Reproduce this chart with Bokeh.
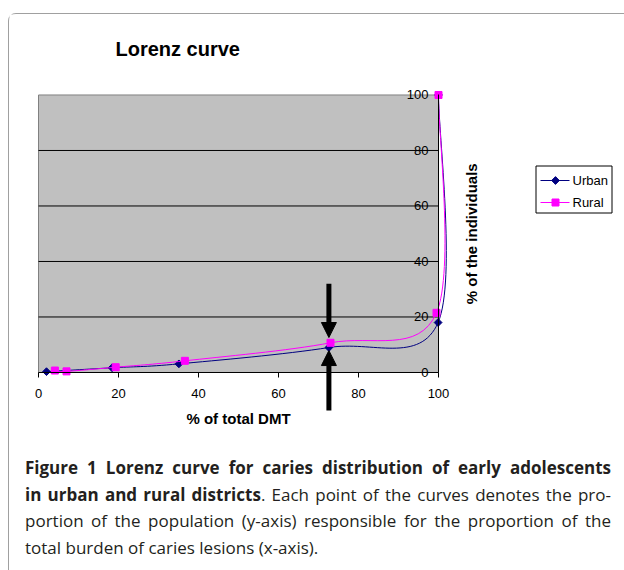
import numpy as np
from bokeh.plotting import figure
from bokeh.core.properties import value
from bokeh.models import (ColumnDataSource, FixedTicker, LinearAxis,
                          Label, Arrow, NormalHead, Div, Range1d)
from bokeh.layouts import column
from bokeh.embed import file_html
from bokeh.resources import INLINE

# ---- data ----
urban_x = [2.0, 18.4, 35.1, 72.6, 99.9, 100.0]
urban_y = [0.3, 1.7, 3.1, 9.0, 18.0, 100.0]
rural_x = [4.1, 7.0, 19.3, 36.6, 73.0, 99.5, 100.0]
rural_y = [0.7, 0.4, 1.9, 4.2, 10.7, 21.5, 100.0]
x_ticks = [0, 20, 40, 60, 80, 100]
y_ticks = [0, 20, 40, 60, 80, 100]
series_names = ["Urban", "Rural"]

# annotation arrows pointing at the highlighted point (data units)
ARROW_X = urban_x[3]
ARROW_DOWN = (32.0, 12.6)
ARROW_UP = (-13.7, 7.9)

NAVY = "#000080"
MAGENTA = "#FF00FF"
FONT = "Liberation Sans"

# canvas geometry: 4 px per x unit, 2.775 px per y unit
W, H = 607, 426
PX_X, PX_Y = 4.0, 2.775
X0, Y1 = -7.25, 129.0
Y0 = Y1 - H / PX_Y


def dx(sx):
    """screen px from canvas left -> data x"""
    return X0 + sx / PX_X


def dy(sy):
    """screen px from canvas bottom -> data y"""
    return Y0 + sy / PX_Y


# legend layout (screen px from canvas bottom-left)
LEG_BOX = (526.5, 602.5, 227.5, 274.5)
LEG_ROWS = [260, 238]
LEG_LINE = (531, 560)
LEG_MARK = 546
LEG_TEXT = 563


def smooth_segments(xs, ys):
    """Excel-style smoothed line: cubic Bezier segments through the points."""
    pts = np.column_stack([xs, ys]).astype(float)
    n = len(pts)
    seg = dict(x0=[], y0=[], x1=[], y1=[], cx0=[], cy0=[], cx1=[], cy1=[])
    for i in range(n - 1):
        pp = pts[i - 1] if i > 0 else pts[i]
        p0 = pts[i]
        p1 = pts[i + 1]
        pn = pts[i + 2] if i + 2 < n else pts[i + 1]
        c0 = p0 + (p1 - pp) / 6.0
        c1 = p1 - (pn - p0) / 6.0
        seg["x0"].append(p0[0]); seg["y0"].append(p0[1])
        seg["x1"].append(p1[0]); seg["y1"].append(p1[1])
        seg["cx0"].append(c0[0]); seg["cy0"].append(c0[1])
        seg["cx1"].append(c1[0]); seg["cy1"].append(c1[1])
    return seg


p = figure(title=None, frame_width=W, frame_height=H,
           x_range=Range1d(X0, X0 + W / PX_X),
           y_range=Range1d(Y0, Y1),
           x_axis_location=None, y_axis_location=None,
           output_backend="svg", toolbar_location=None,
           min_border=0, background_fill_color="white", border_fill_color="white",
           outline_line_color=None)
for g in p.grid:
    g.visible = False

# plot area (grey) and gridlines
p.quad(left=x_ticks[0], right=x_ticks[-1], bottom=y_ticks[0], top=y_ticks[-1],
       fill_color="#C0C0C0", line_color="#808080", line_width=1)
p.segment(x0=[x_ticks[0]] * (len(y_ticks) - 2), x1=[x_ticks[-1]] * (len(y_ticks) - 2),
          y0=y_ticks[1:-1], y1=y_ticks[1:-1], line_color="black", line_width=1)

# x axis at y = 0
xa = LinearAxis(fixed_location=y_ticks[0], bounds=(x_ticks[0], x_ticks[-1]),
                ticker=FixedTicker(ticks=x_ticks))
xa.major_tick_out = 5
xa.major_tick_in = 0
xa.minor_tick_out = 0
xa.minor_tick_in = 0
xa.axis_line_color = "black"
xa.major_tick_line_color = "black"
xa.major_label_text_font = FONT
xa.major_label_text_font_size = "13px"
xa.major_label_text_color = "black"
xa.major_label_standoff = 12
xa.axis_label = "% of total DMT"
xa.axis_label_text_font = FONT
xa.axis_label_text_font_size = "15px"
xa.axis_label_text_font_style = "bold"
xa.axis_label_text_color = "black"
xa.axis_label_standoff = 8
p.add_layout(xa, "below")

# y axis at x = 100, labels to its left
ya = LinearAxis(fixed_location=x_ticks[-1], bounds=(y_ticks[0], y_ticks[-1]),
                ticker=FixedTicker(ticks=y_ticks))
ya.major_tick_out = 0
ya.major_tick_in = 0
ya.minor_tick_out = 0
ya.minor_tick_in = 0
ya.axis_line_color = "black"
ya.major_label_text_font = FONT
ya.major_label_text_font_size = "13px"
ya.major_label_text_color = "black"
ya.major_label_standoff = 10
p.add_layout(ya, "left")

p.add_layout(Label(x=x_ticks[-1], y=(y_ticks[0] + y_ticks[-1]) / 2, x_offset=33,
                   text="% of the individuals", angle=90, angle_units="deg",
                   text_align="center", text_baseline="middle", text_color="black",
                   text_font=FONT, text_font_size="15px", text_font_style="bold"))

p.add_layout(Label(x=106, y=H - 34, x_units="screen", y_units="screen",
                   text="Lorenz curve", text_align="left", text_baseline="middle",
                   text_color="black", text_font=FONT, text_font_size="20px",
                   text_font_style="bold"))

# curves
URBAN_MARK = dict(marker="square", angle=np.pi / 4, size=5.5, fill_color=NAVY, line_color=NAVY)
RURAL_MARK = dict(marker="square", size=7, fill_color=MAGENTA, line_color=MAGENTA)

p.bezier(source=ColumnDataSource(smooth_segments(urban_x, urban_y)),
         x0="x0", y0="y0", x1="x1", y1="y1", cx0="cx0", cy0="cy0", cx1="cx1", cy1="cy1",
         line_color=NAVY, line_width=1)
p.scatter(urban_x, urban_y, **URBAN_MARK)
p.bezier(source=ColumnDataSource(smooth_segments(rural_x, rural_y)),
         x0="x0", y0="y0", x1="x1", y1="y1", cx0="cx0", cy0="cy0", cx1="cx1", cy1="cy1",
         line_color=MAGENTA, line_width=1)
p.scatter(rural_x, rural_y, **RURAL_MARK)

# legend (drawn by hand: box outline, line samples, markers, names)
bl, br, bb, bt = LEG_BOX
p.segment(x0=[dx(bl), dx(bl), dx(bl), dx(br)],
          x1=[dx(br), dx(br), dx(bl), dx(br)],
          y0=[dy(bb), dy(bt), dy(bb), dy(bb)],
          y1=[dy(bb), dy(bt), dy(bt), dy(bt)],
          line_color="black", line_width=1)
row_y = [dy(r) for r in LEG_ROWS]
p.segment(x0=[dx(LEG_LINE[0])] * 2, x1=[dx(LEG_LINE[1])] * 2, y0=row_y, y1=row_y,
          line_color=[NAVY, MAGENTA], line_width=1)
p.scatter([dx(LEG_MARK)], [row_y[0]], **URBAN_MARK)
p.scatter([dx(LEG_MARK)], [row_y[1]], **RURAL_MARK)
p.text(x=[dx(LEG_TEXT)] * 2, y=row_y, text=series_names,
       text_font=value(FONT), text_font_size=value("13px"), text_color="black",
       text_align="left", text_baseline="middle")

# arrows
for (ys, ye) in (ARROW_DOWN, ARROW_UP):
    p.add_layout(Arrow(end=NormalHead(size=15, fill_color="black", line_color="black"),
                       x_start=ARROW_X, y_start=ys, x_end=ARROW_X, y_end=ye,
                       line_width=5, line_color="black"))

J = "text-align:justify;text-align-last:justify;width:586px;white-space:nowrap;"
caption = f"""
<div style="padding:10px 0 0 11px;font-family:'Open Sans';font-size:17px;line-height:26.7px;color:#231f20;">
<div style="{J}"><b>Figure 1 Lorenz curve for caries distribution of early adolescents</b></div>
<div style="{J}"><b>in urban and rural districts</b>. Each point of the curves denotes the pro-</div>
<div style="{J}">portion of the population (y-axis) responsible for the proportion of the</div>
<div style="width:586px;">total burden of caries lesions (x-axis).</div>
</div>
"""
div = Div(text=caption, width=615, height=122)

layout = column(p, div, styles={"border-left": "1px solid #a0a0a0",
                                "border-top": "1px solid #a0a0a0",
                                "border-top-left-radius": "8px",
                                "margin-top": "13px", "margin-left": "8px"})

open("out.html", "w").write(file_html(layout, INLINE))
